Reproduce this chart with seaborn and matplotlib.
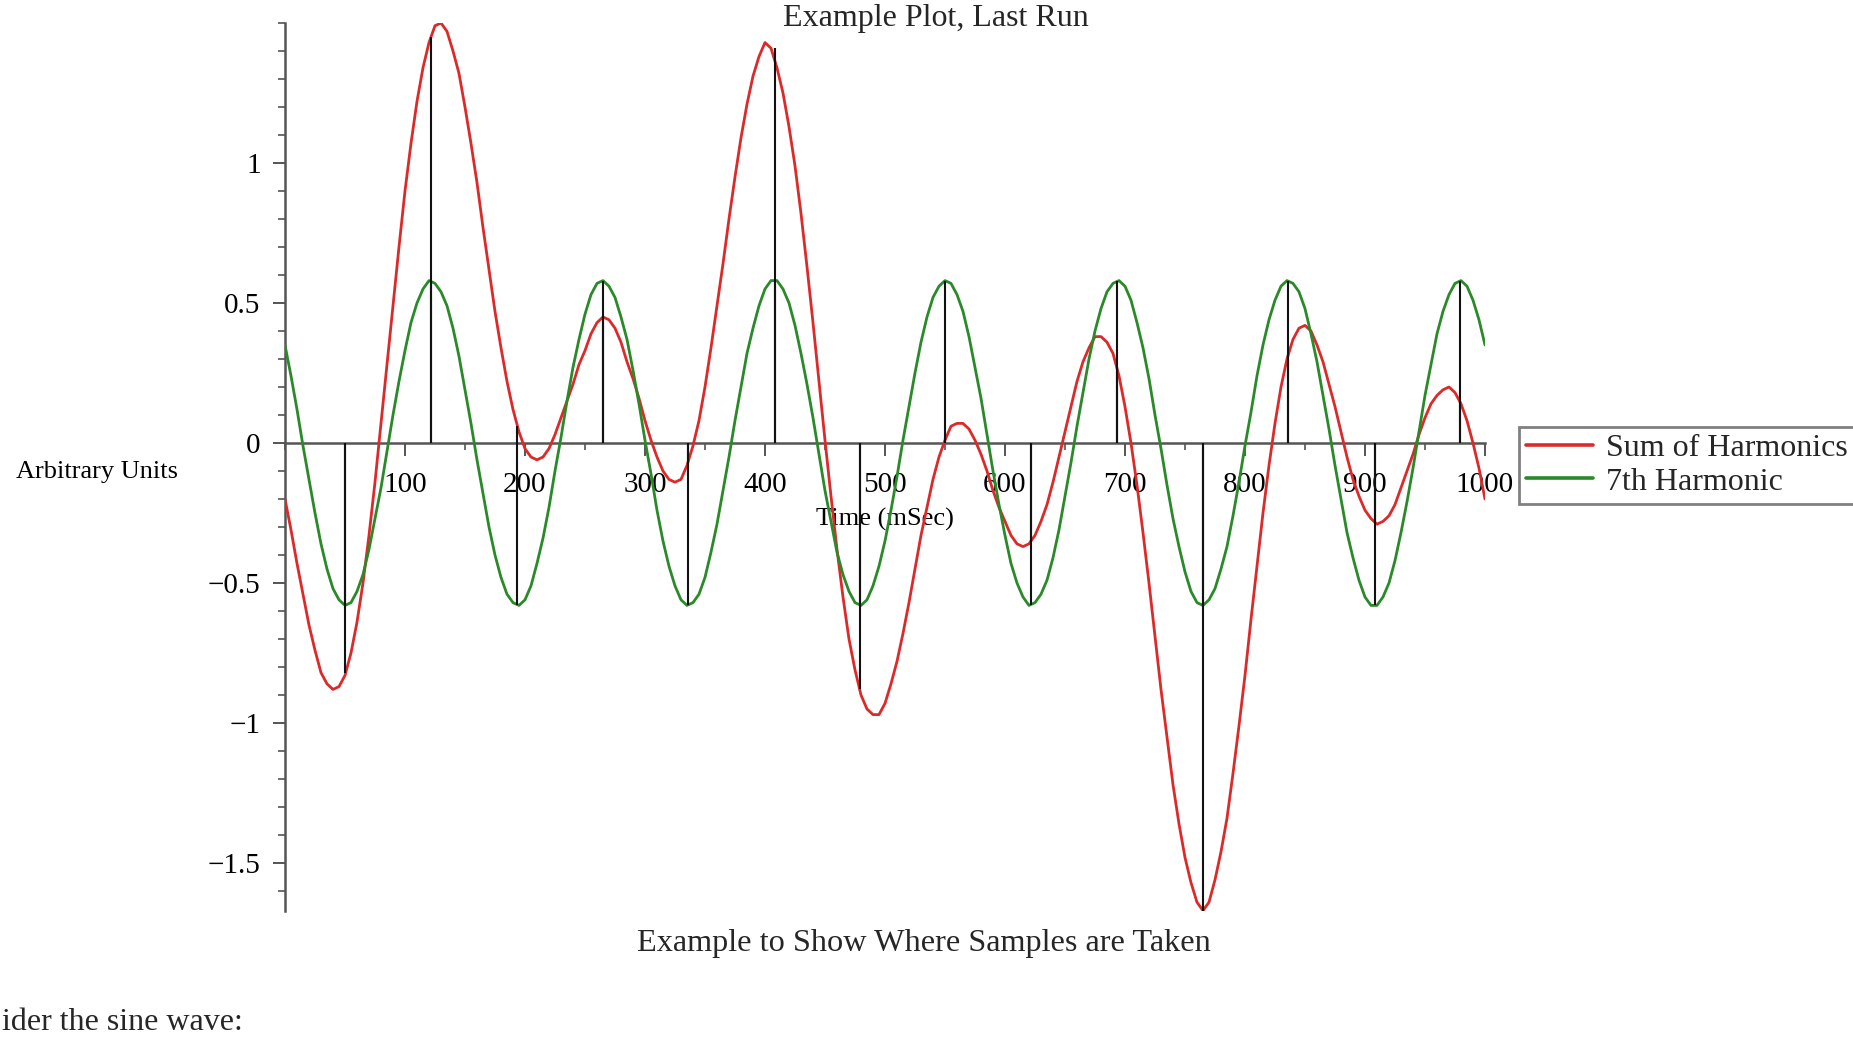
import numpy as np
import pandas as pd
import matplotlib
matplotlib.use('Agg')
import matplotlib.pyplot as plt
import seaborn as sns
from matplotlib.ticker import FixedLocator, MultipleLocator

# ---------------- data ----------------
time_ms = np.arange(0, 1001, 5)

sum_of_harmonics = [
    -0.20, -0.31, -0.43, -0.54, -0.65, -0.74, -0.82, -0.86, -0.88, -0.87, -0.83, -0.75, -0.64, -0.50, -0.33, -0.14, 0.07, 0.28, 0.49, 0.70, 0.90,
    1.07, 1.22, 1.34, 1.43, 1.49, 1.50, 1.47, 1.40, 1.32, 1.20, 1.07, 0.93, 0.77, 0.62, 0.47, 0.34, 0.22, 0.12, 0.04, -0.02, -0.05,
    -0.06, -0.05, -0.02, 0.03, 0.09, 0.15, 0.21, 0.28, 0.33, 0.39, 0.43, 0.45, 0.44, 0.41, 0.36, 0.29, 0.23, 0.16, 0.08, 0.01, -0.05,
    -0.10, -0.13, -0.14, -0.13, -0.08, -0.01, 0.08, 0.20, 0.34, 0.49, 0.64, 0.80, 0.95, 1.09, 1.21, 1.31, 1.38, 1.43, 1.41, 1.34, 1.25,
    1.13, 0.99, 0.82, 0.63, 0.43, 0.22, 0.01, -0.19, -0.38, -0.55, -0.70, -0.81, -0.90, -0.95, -0.97, -0.97, -0.93, -0.86, -0.78, -0.68, -0.57,
    -0.45, -0.33, -0.23, -0.13, -0.05, 0.01, 0.06, 0.07, 0.07, 0.05, 0.01, -0.04, -0.10, -0.17, -0.23, -0.28, -0.33, -0.36, -0.37, -0.36, -0.33,
    -0.28, -0.22, -0.14, -0.05, 0.04, 0.13, 0.22, 0.29, 0.34, 0.38, 0.38, 0.36, 0.32, 0.24, 0.13, 0.00, -0.15, -0.32, -0.50, -0.69, -0.88,
    -1.05, -1.22, -1.36, -1.48, -1.57, -1.64, -1.67, -1.64, -1.56, -1.46, -1.34, -1.18, -1.01, -0.83, -0.63, -0.44, -0.25, -0.08, 0.07, 0.20, 0.30,
    0.37, 0.41, 0.42, 0.40, 0.35, 0.29, 0.21, 0.13, 0.04, -0.05, -0.13, -0.19, -0.24, -0.27, -0.29, -0.28, -0.26, -0.22, -0.16, -0.10, -0.04,
    0.03, 0.09, 0.14, 0.17, 0.19, 0.20, 0.18, 0.14, 0.08, 0.00, -0.09, -0.20,
]

seventh_harmonic = [
    0.35, 0.24, 0.12, -0.01, -0.13, -0.25, -0.36, -0.45, -0.52, -0.56, -0.58, -0.57, -0.53, -0.47, -0.38, -0.27, -0.16, -0.03, 0.10, 0.22, 0.33,
    0.43, 0.50, 0.55, 0.58, 0.57, 0.54, 0.49, 0.41, 0.31, 0.19, 0.07, -0.06, -0.18, -0.30, -0.40, -0.48, -0.54, -0.57, -0.58, -0.56, -0.51,
    -0.43, -0.34, -0.23, -0.10, 0.02, 0.15, 0.27, 0.37, 0.46, 0.53, 0.57, 0.58, 0.56, 0.52, 0.45, 0.37, 0.26, 0.14, 0.01, -0.11, -0.24,
    -0.35, -0.44, -0.51, -0.56, -0.58, -0.57, -0.54, -0.48, -0.39, -0.29, -0.17, -0.05, 0.08, 0.20, 0.32, 0.41, 0.49, 0.55, 0.58, 0.58, 0.55,
    0.50, 0.42, 0.32, 0.21, 0.09, -0.04, -0.17, -0.28, -0.39, -0.47, -0.53, -0.57, -0.58, -0.56, -0.51, -0.44, -0.35, -0.24, -0.12, 0.01, 0.13,
    0.25, 0.36, 0.45, 0.52, 0.56, 0.58, 0.57, 0.53, 0.47, 0.38, 0.27, 0.16, 0.03, -0.10, -0.22, -0.33, -0.43, -0.50, -0.55, -0.58, -0.57,
    -0.54, -0.49, -0.41, -0.31, -0.19, -0.07, 0.06, 0.18, 0.30, 0.40, 0.48, 0.54, 0.57, 0.58, 0.56, 0.51, 0.43, 0.34, 0.23, 0.10, -0.02,
    -0.15, -0.27, -0.37, -0.46, -0.53, -0.57, -0.58, -0.56, -0.52, -0.45, -0.37, -0.26, -0.14, -0.01, 0.11, 0.24, 0.35, 0.44, 0.51, 0.56, 0.58,
    0.57, 0.54, 0.48, 0.39, 0.29, 0.17, 0.05, -0.08, -0.20, -0.32, -0.41, -0.49, -0.55, -0.58, -0.58, -0.55, -0.50, -0.42, -0.32, -0.21, -0.09,
    0.04, 0.17, 0.28, 0.39, 0.47, 0.53, 0.57, 0.58, 0.56, 0.51, 0.44, 0.35,
]

# sample instants (black stems) and the values of both curves there
sample_times = [50, 122, 193, 265, 336, 408, 479, 550, 622, 693, 765, 836, 908, 979]
sample_sum = [-0.82, 1.45, 0.06, 0.45, -0.07, 1.41, -0.88, 0.02, -0.35, 0.27, -1.67, 0.32, -0.28, 0.15]
sample_7th = [-0.58, 0.58, -0.58, 0.58, -0.58, 0.58, -0.58, 0.58, -0.58, 0.58, -0.58, 0.58, -0.58, 0.58]

series_names = ['Sum of Harmonics', '7th Harmonic']
x_ticks = [100, 200, 300, 400, 500, 600, 700, 800, 900, 1000]
x_tick_labels = ['100', '200', '300', '400', '500', '600', '700', '800', '900', '1000']
y_ticks = [-1.5, -1.0, -0.5, 0.0, 0.5, 1.0]
y_tick_labels = ['\u22121.5', '\u22121', '\u22120.5', '0', '0.5', '1']

# ---------------- styling ----------------
sns.set_theme(style='white')
plt.rcParams['font.family'] = ['Liberation Serif', 'DejaVu Serif']
plt.rcParams['axes.unicode_minus'] = True

RED = '#dc2a2a'
GREEN = '#2a8a2a'
AXIS = '#555555'

df = pd.DataFrame({
    'Time': np.concatenate([time_ms, time_ms]),
    'Value': np.concatenate([sum_of_harmonics, seventh_harmonic]),
    'Series': [series_names[0]] * len(time_ms) + [series_names[1]] * len(time_ms),
})

fig = plt.figure(figsize=(18.53, 10.40), dpi=100)
fig.patch.set_facecolor('white')
ax = fig.add_axes([0.1538, 0.1244, 0.6476, 0.8535])
ax.set_facecolor('white')

sns.lineplot(data=df, x='Time', y='Value', hue='Series', hue_order=series_names,
             palette={series_names[0]: RED, series_names[1]: GREEN},
             linewidth=2.0, ax=ax, legend=True, zorder=2)

ax.vlines(sample_times, 0, sample_sum, color='#111111', linewidth=1.5, zorder=3)
ax.vlines(sample_times, 0, sample_7th, color='#111111', linewidth=1.5, zorder=3)

ax.set_xlim(0, 1000)
ax.set_ylim(min(sum_of_harmonics), max(sum_of_harmonics))

for side in ['top', 'right']:
    ax.spines[side].set_visible(False)
ax.spines['bottom'].set_position(('data', 0))
ax.spines['left'].set_position(('data', 0))
for side in ['bottom', 'left']:
    ax.spines[side].set_color(AXIS)
    ax.spines[side].set_linewidth(1.8)
    ax.spines[side].set_zorder(1)

ax.xaxis.set_major_locator(FixedLocator(x_ticks))
ax.set_xticklabels(x_tick_labels)
ax.xaxis.set_minor_locator(MultipleLocator(50))
ax.yaxis.set_major_locator(FixedLocator(y_ticks))
ax.set_yticklabels(y_tick_labels)
ax.yaxis.set_minor_locator(MultipleLocator(0.1))

ax.tick_params(axis='x', which='major', direction='out', length=9, width=1.4,
               color=AXIS, labelcolor='black', labelsize=21, pad=12, bottom=True)
ax.tick_params(axis='x', which='minor', direction='out', length=5, width=1.2,
               color=AXIS, bottom=True)
ax.tick_params(axis='y', which='major', direction='out', length=9, width=1.4,
               color=AXIS, labelcolor='black', labelsize=21, pad=8.5, left=True)
ax.tick_params(axis='y', which='minor', direction='out', length=5, width=1.2,
               color=AXIS, left=True)

ax.set_xlabel('Time (mSec)', fontsize=19, color='black')
ax.xaxis.set_label_coords(0.5, 0.4412)
ax.xaxis.label.set_va('center')
ax.set_ylabel('Arbitrary Units', fontsize=19, rotation=0, color='black')
ax.yaxis.set_label_coords(-0.1567, 0.4936)
ax.yaxis.label.set_ha('center')
ax.yaxis.label.set_va('center')

handles, labels = ax.get_legend_handles_labels()
ax.get_legend().remove()
for h in handles:
    h.set_linewidth(2.6)
leg = ax.legend(handles, labels, loc='upper left', mode='expand',
                bbox_to_anchor=(0.8197, 0.40, 0.20, 0.1894), bbox_transform=fig.transFigure,
                borderaxespad=0, fontsize=23, frameon=True, fancybox=False, framealpha=1,
                edgecolor='#808080', handlelength=2.1, handletextpad=0.4,
                labelspacing=0.12, borderpad=0.22)
leg.get_frame().set_linewidth(2.0)

fig.text(0.505, 0.975, 'Example Plot, Last Run', ha='center', va='baseline', fontsize=23)
fig.text(0.4987, 0.0856, 'Example to Show Where Samples are Taken', ha='center',
         va='baseline', fontsize=23.2)
fig.text(0.001, 0.0096, 'ider the sine wave:', ha='left', va='baseline', fontsize=23)

fig.savefig('out.png', dpi=100, facecolor='white')
